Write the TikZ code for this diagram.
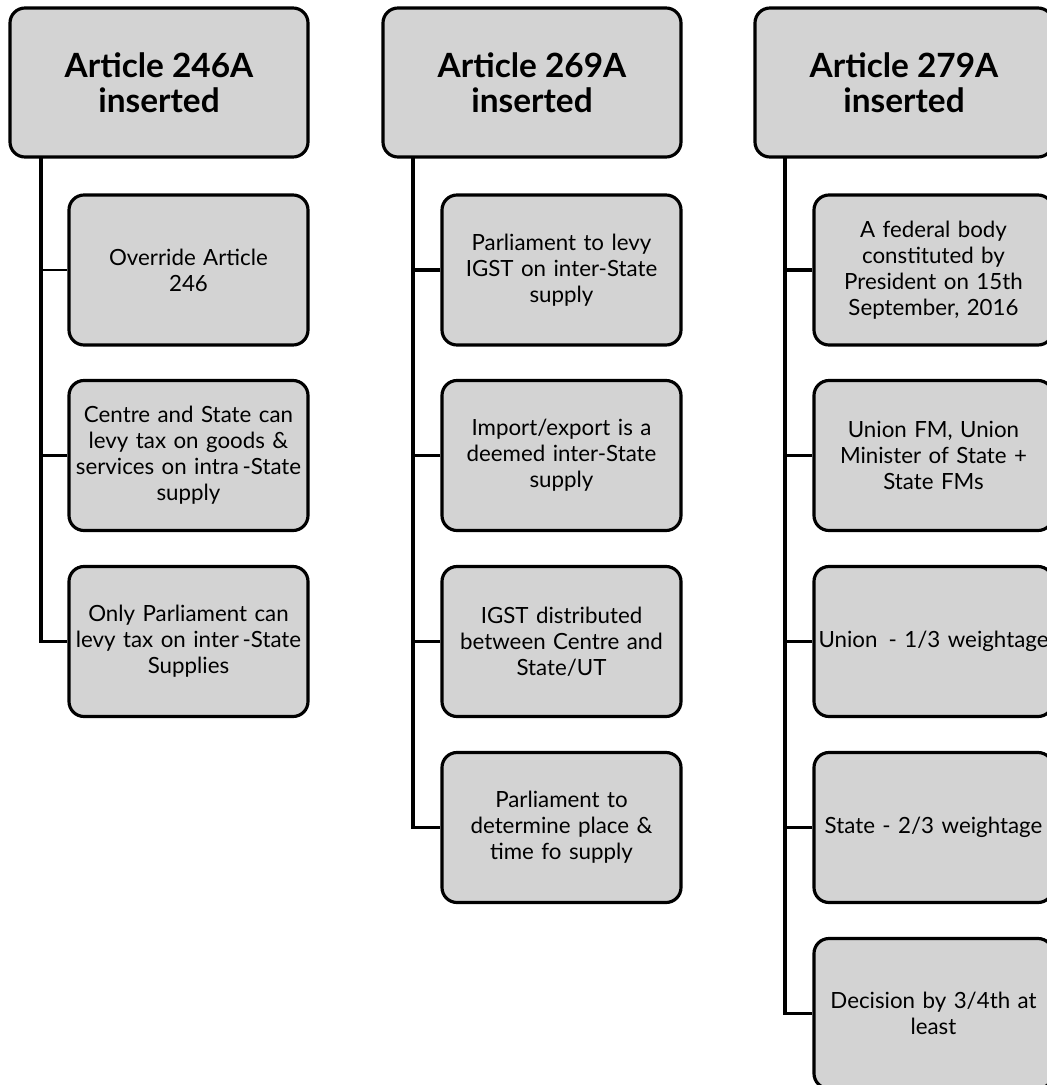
\documentclass[tikz,border=0pt]{standalone}
\usepackage{fontspec}
\setmainfont{Lato}
\begin{document}
\begin{tikzpicture}[
    head/.style={rectangle, draw, rounded corners=0.3cm, line width=1.8pt, fill=boxgray, minimum width=5.96cm, minimum height=2.98cm, align=center, font=\fontsize{19}{20}\selectfont\bfseries},
    item/.style={rectangle, draw, rounded corners=0.3cm, line width=1.8pt, fill=boxgray, minimum width=4.78cm, minimum height=3.0cm, inner sep=0pt, text width=4.6cm, align=center, font=\fontsize{12.7}{14.8}\selectfont},
    conn/.style={line width=2pt}
]
\definecolor{boxgray}{HTML}{D3D3D3}
\useasboundingbox (0,0) rectangle (20.94,-21.7);
\clip (0,0) rectangle (20.94,-21.7);
% headers
\node[head] (h1) at (3.18,-1.65) {Article 246A\\inserted};
\node[head] (h2) at (10.64,-1.65) {Article 269A\\inserted};
\node[head] (h3) at (18.08,-1.65) {Article 279A\\inserted};
% spines
\coordinate (s1) at (0.82,-3.14);
\coordinate (s2) at (8.26,-3.14);
\coordinate (s3) at (15.70,-3.14);
% column 1
\node[item] (c11) at (3.77,-5.40) {Override Article\\246};
\node[item] (c12) at (3.77,-9.11) {Centre and State can\\levy tax on goods \&\\services on intra\,-State\\supply};
\node[item] (c13) at (3.77,-12.83) {Only Parliament can\\levy tax on inter\,-State\\Supplies};
% column 2
\node[item] (c21) at (11.23,-5.40) {Parliament to levy\\IGST on inter-State\\supply};
\node[item] (c22) at (11.23,-9.11) {Import/export is a\\deemed inter-State\\supply};
\node[item] (c23) at (11.23,-12.83) {IGST distributed\\between Centre and\\State/UT};
\node[item] (c24) at (11.23,-16.55) {Parliament to\\determine place \&\\time fo supply};
% column 3
\node[item] (c31) at (18.67,-5.40) {A federal body\\constituted by\\President on 15th\\September, 2016};
\node[item] (c32) at (18.67,-9.11) {Union FM, Union\\Minister of State +\\State FMs};
\node[item] (c33) at (18.67,-12.83) {\mbox{Union\enspace - 1/3 weightage}};
\node[item] (c34) at (18.67,-16.55) {State - 2/3 weightage};
\node[item] (c35) at (18.67,-20.27) {Decision by 3/4th at\\least};
% connectors
\draw[conn] (s1) |- (c13.west);
\draw[conn, line width=0.8pt] (c11.west) -- (c11.west -| s1);
\draw[conn] (c12.west) -- (c12.west -| s1);
\draw[conn] (s2) |- (c24.west);
\foreach \n in {c21,c22,c23}
  \draw[conn] (\n.west) -- (\n.west -| s2);
\draw[conn] (s3) |- (c35.west);
\foreach \n in {c31,c32,c33,c34}
  \draw[conn] (\n.west) -- (\n.west -| s3);
\end{tikzpicture}
\end{document}
